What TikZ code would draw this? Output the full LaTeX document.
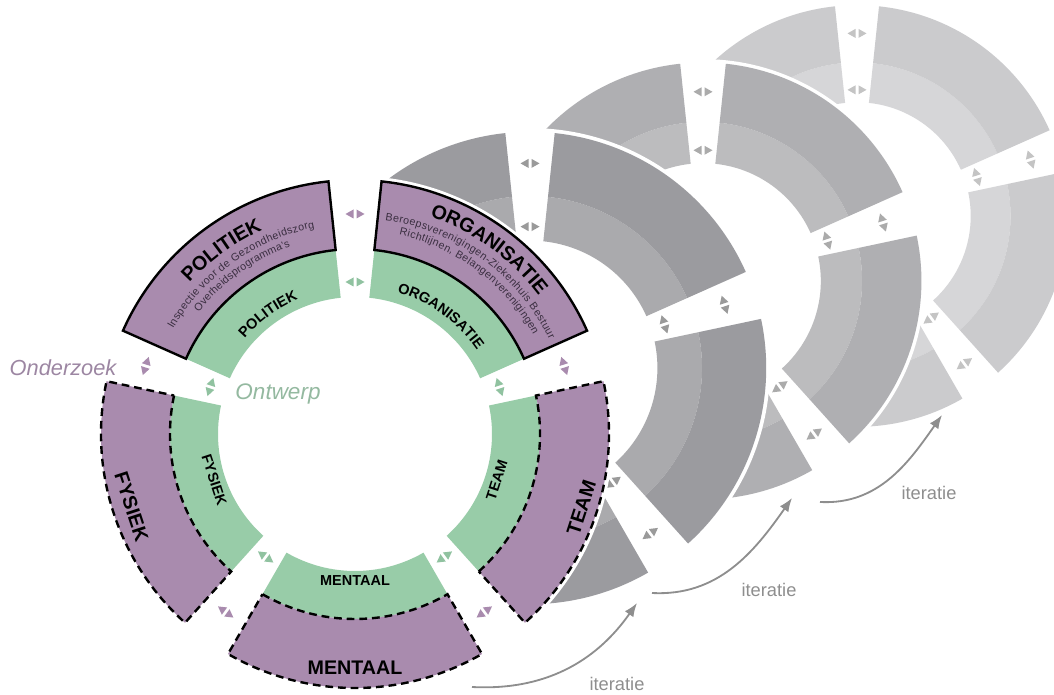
\documentclass[tikz,border=0pt]{standalone}
\usepackage{fontspec}
\setmainfont{Liberation Sans}
\usetikzlibrary{arrows.meta,decorations.text}

\definecolor{paars}{HTML}{A98BAE}
\definecolor{groen}{HTML}{98CCA8}
\definecolor{paarstekst}{HTML}{9C86A2}
\definecolor{groentekst}{HTML}{94B9A0}
\definecolor{donker}{HTML}{3A2E40}
\definecolor{itergrijs}{HTML}{8E8E8E}
\definecolor{grijsAa}{HTML}{AAAAAD}
\definecolor{grijsAb}{HTML}{9B9B9F}
\definecolor{grijsAp}{HTML}{9A9A9A}
\definecolor{grijsBa}{HTML}{BCBCBE}
\definecolor{grijsBb}{HTML}{AFAFB2}
\definecolor{grijsBp}{HTML}{ABABAB}
\definecolor{grijsCa}{HTML}{D6D6D8}
\definecolor{grijsCb}{HTML}{CBCBCD}
\definecolor{grijsCp}{HTML}{C4C4C4}

\newcommand{\titel}{\fontsize{14}{16}\selectfont\bfseries}
\newcommand{\klein}{\fontsize{7.6}{9}\selectfont\color{donker}}
\newcommand{\ringtekst}{\fontsize{10.3}{12}\selectfont\bfseries}

% annular piece: start angle, end angle, inner r, outer r, options
\newcommand{\ringdeel}[5]{\path[#5] (#1:#3) arc[start angle=#1, end angle=#2, radius=#3] -- (#2:#4) arc[start angle=#2, end angle=#1, radius=#4] -- cycle;}

\tikzset{
  pics/dubbelpijl/.style={code={
    \fill (-4.5,1.5) -- (4.5,1.5) -- (0,9.5) -- cycle
      (-4.5,-1.5) -- (4.5,-1.5) -- (0,-9.5) -- cycle;}},
  rand/.style={draw=black, line width=1.7pt, line join=miter},
  streep/.style={draw=black, line width=1.7pt, dash pattern=on 5.5pt off 3.5pt},
  boog/.style={decorate, decoration={text along path, text align=center, text={#1}}},
  boogvol/.style={decorate, decoration={text along path, text align={fit to path}, text={#1}}},
  iterpijl/.style={itergrijs, line width=1.3pt, -{Latex[length=3.4mm, width=2.6mm]}},
  iter/.style={text=itergrijs, font=\fontsize{13}{15}\selectfont}
}

% grey copy of the wheel: outer, inner, arrow colour
\newcommand{\wiel}[3]{%
  \fill[white] (0,0) circle (258);
  \foreach \a/\b in {24/84,96/156,168/228,240/300,312/372}{%
    \ringdeel{\a}{\b}{137}{185}{fill=#2}
    \ringdeel{\a}{\b}{185}{254}{fill=#1}}
  \foreach \g in {18,90,162,234,306}{%
    \pic[rotate=\g, color=#3] at (\g:152) {dubbelpijl};
    \pic[rotate=\g, color=#3] at (\g:220) {dubbelpijl};}
}

\begin{document}
\begin{tikzpicture}[x=0.025cm, y=0.025cm]
\useasboundingbox (0,0) rectangle (1054,-695);
\clip (0,0) rectangle (1054,-695);

% iterations, back to front
\begin{scope}[shift={(857,-216)}, scale=0.83] \wiel{grijsCb}{grijsCa}{grijsCp} \end{scope}
\begin{scope}[shift={(703,-281)}, scale=0.86] \wiel{grijsBb}{grijsBa}{grijsBp} \end{scope}
\begin{scope}[shift={(530,-368)}, scale=0.93] \wiel{grijsAb}{grijsAa}{grijsAp} \end{scope}

% main wheel
\begin{scope}[shift={(355,-434)}]
  \fill[white] (0,0) circle (258);
  \foreach \a/\b in {24/84,96/156,168/228,240/300,312/372}{
    \ringdeel{\a}{\b}{137}{185}{fill=groen}}
  \ringdeel{96}{156}{185}{254}{fill=paars, rand}%politiek
  \ringdeel{24}{84}{185}{254}{fill=paars, rand}%organisatie
  \foreach \a/\b in {168/228,240/300,312/372}{
    \ringdeel{\a}{\b}{185}{254}{fill=paars, streep}}
  \foreach \g in {18,90,162,234,306}{
    \pic[rotate=\g, color=groen!95!black] at (\g:152) {dubbelpijl};
    \pic[rotate=\g, color=paars] at (\g:220) {dubbelpijl};}

  % curved texts on top
  \path[boog={|\titel|POLITIEK}] (156:224) arc[start angle=156, end angle=96, radius=224];
  \path[boogvol={|\klein|Inspectie voor de Gezondheidszorg}]
    (150:210) arc[start angle=150, end angle=101, radius=210];
  \path[boogvol={|\klein|Overheidsprogramma's}]
    (142:198) arc[start angle=142, end angle=109, radius=198];
  \path[boog={|\titel|ORGANISATIE}] (84:230) arc[start angle=84, end angle=24, radius=230];
  \path[boogvol={|\klein|Beroepsverenigingen-Ziekenhuis Bestuur}]
    (82:216) arc[start angle=82, end angle=26, radius=216];
  \path[boogvol={|\klein|Richtlijnen, Belangenverenigingen}]
    (77.5:204) arc[start angle=77.5, end angle=29, radius=204];
  \path[boog={|\ringtekst|POLITIEK}] (156:146) arc[start angle=156, end angle=96, radius=146];
  \path[boog={|\ringtekst|ORGANISATIE}] (84:148) arc[start angle=84, end angle=24, radius=148];

  % straight texts below
  \node[font=\titel, rotate=-72] (fysiek) at (198:235) {FYSIEK};
  \node[font=\titel] (mentaal) at (270:234) {MENTAAL};
  \node[font=\titel, rotate=72] (team) at (342:238) {TEAM};
  \node[font=\ringtekst, rotate=-72] (fysiekin) at (198:148) {FYSIEK};
  \node[font=\ringtekst] (mentaalin) at (270:147) {MENTAAL};
  \node[font=\ringtekst, rotate=72] (teamin) at (342:149) {TEAM};
\end{scope}

\node[text=paarstekst, font=\fontsize{15.5}{17}\selectfont\itshape] (onderzoek) at (63,-368) {Onderzoek};
\node[text=groentekst, font=\fontsize{16}{18}\selectfont\itshape] (ontwerp) at (278,-394) {Ontwerp};

% iteration arrows
\coordinate (it1a) at (472,-687); \coordinate (it1b) at (637,-603);
\coordinate (it2a) at (652,-593); \coordinate (it2b) at (792,-498);
\coordinate (it3a) at (820,-502); \coordinate (it3b) at (942,-415);
\draw[iterpijl] (it1a) to[out=-3, in=235] (it1b);
\draw[iterpijl] (it2a) to[out=-3, in=235] (it2b);
\draw[iterpijl] (it3a) to[out=-3, in=235] (it3b);
\node[iter] (iter1) at (617,-684) {iteratie};
\node[iter] (iter2) at (769,-590) {iteratie};
\node[iter] (iter3) at (929,-493) {iteratie};
\end{tikzpicture}
\end{document}
